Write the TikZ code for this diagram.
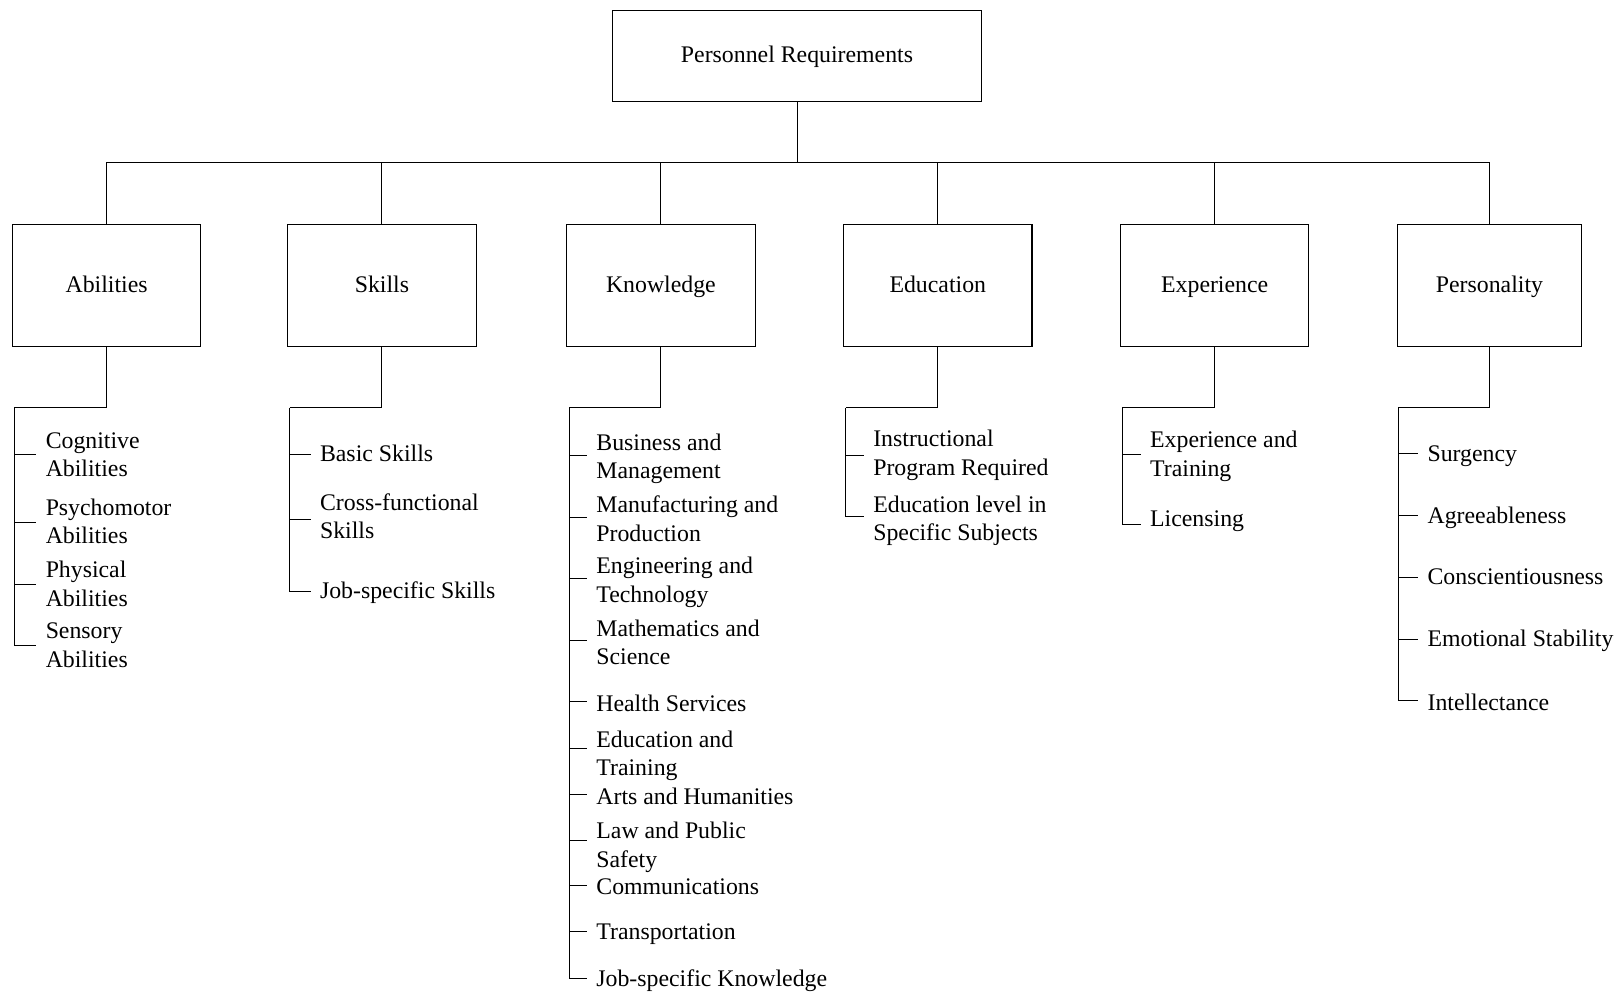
\documentclass[tikz,border=0pt]{standalone}
\usepackage{fontspec}
\setmainfont{Liberation Serif}
% balanced line strut so that every line has the same height and depth
\newcommand\ls{\rule[-7.25pt]{0pt}{27.5pt}}
\begin{document}
\begin{tikzpicture}[x=1pt,y=-1pt,
  every node/.style={font=\fontsize{23}{27.5}\selectfont},
  topbox/.style={draw, line width=1.1pt, minimum width=356pt, minimum height=88pt,
    inner sep=0pt, text height=20.25pt, text depth=7.25pt},
  catbox/.style={draw, line width=1.1pt, minimum width=182pt, minimum height=118.5pt,
    inner sep=0pt, text height=20.25pt, text depth=7.25pt},
  item/.style={anchor=west, inner xsep=9pt, inner ysep=0pt, align=left},
  link/.style={line width=0.9pt}]
\useasboundingbox (0,0) rectangle (1568,958);

% root and main categories
\node[topbox] (root) at (770,54) {Personnel Requirements};
\node[catbox] (abil) at (103,275.75) {Abilities};
\node[catbox] (skil) at (369,275.75) {Skills};
\node[catbox] (know) at (638.5,275.75) {Knowledge};
\node[catbox] (educ) at (906,275.75) {Education};
\node[catbox] (expe) at (1173.5,275.75) {Experience};
\node[catbox, minimum width=178pt] (pers) at (1439,275.75) {Personality};

\coordinate (bus) at (770,157);
\draw[link] (root.south) -- (bus);
\foreach \c in {abil,skil,know,educ,expe,pers}
  \draw[link] (bus) -| (\c.north);

% spine tops of the item lists
\coordinate (aJ) at (14,394);
\coordinate (sJ) at (280,394);
\coordinate (kJ) at (550,394);
\coordinate (eJ) at (817,394);
\coordinate (xJ) at (1084,394);
\coordinate (pJ) at (1351,394);

% Abilities
\node[item] (a1) at (35,440.5) {\ls Cognitive\\\ls Abilities};
\node[item] (a2) at (35,505) {\ls Psychomotor\\\ls Abilities};
\node[item] (a3) at (35,565.5) {\ls Physical\\\ls Abilities};
\node[item] (a4) at (35,624.5) {\ls Sensory\\\ls Abilities};

% Skills
\node[item] (s1) at (300,439.5) {\ls Basic Skills};
\node[item] (s2) at (300,500) {\ls Cross-functional\\\ls Skills};
\node[item] (s3) at (300,572) {\ls Job-specific Skills};

% Knowledge
\node[item] (k1) at (567,442) {\ls Business and\\\ls Management};
\node[item] (k2) at (567,502.5) {\ls Manufacturing and\\\ls Production};
\node[item] (k3) at (567,561.5) {\ls Engineering and\\\ls Technology};
\node[item] (k4) at (567,622) {\ls Mathematics and\\\ls Science};
\node[item] (k5) at (567,680.5) {\ls Health Services};
\node[item] (k6) at (567,729) {\ls Education and\\\ls Training};
\node[item] (k7) at (567,771) {\ls Arts and Humanities};
\node[item] (k8) at (567,817.5) {\ls Law and Public\\\ls Safety};
\node[item] (k9) at (567,857.5) {\ls Communications};
\node[item] (k10) at (567,901.5) {\ls Transportation};
\node[item] (k11) at (567,946.5) {\ls Job-specific Knowledge};

% Education
\node[item] (e1) at (834.5,439) {\ls Instructional\\\ls Program Required};
\node[item] (e2) at (834.5,502) {\ls Education level in\\\ls Specific Subjects};

% Experience
\node[item] (x1) at (1102,440) {\ls Experience and\\\ls Training};
\node[item] (x2) at (1102,502) {\ls Licensing};

% Personality
\node[item] (p1) at (1370,439) {\ls Surgency};
\node[item] (p2) at (1370,499.5) {\ls Agreeableness};
\node[item] (p3) at (1370,558.5) {\ls Conscientiousness};
\node[item] (p4) at (1370,618) {\ls Emotional Stability};
\node[item] (p5) at (1370,679.5) {\ls Intellectance};

% drops from the category boxes to the spines
\draw[link] (abil.south) |- (aJ);
\draw[link] (skil.south) |- (sJ);
\draw[link] (know.south) |- (kJ);
\draw[link] (educ.south) |- (eJ);
\draw[link] (expe.south) |- (xJ);
\draw[link] (pers.south) |- (pJ);

% spines and ticks (the shift is the tick's offset from the label's middle)
\foreach \i/\o in {a1/1,a2/0.5,a3/0.5,a4/0.5} \draw[link] (aJ) |- ([yshift=\o pt]\i.west);
\foreach \i/\o in {s1/0.5,s2/-2,s3/0.5} \draw[link] (sJ) |- ([yshift=\o pt]\i.west);
\foreach \i/\o in {k1/2,k2/2.5,k3/2.5,k4/3,k5/2.5,k6/6,k7/3,k8/6,k9/2.5,k10/1.5,k11/1.5}
  \draw[link] (kJ) |- ([yshift=\o pt]\i.west);
\foreach \i/\o in {e1/-1,e2/3} \draw[link] (eJ) |- ([yshift=\o pt]\i.west);
\foreach \i/\o in {x1/0.5,x2/-5} \draw[link] (xJ) |- ([yshift=\o pt]\i.west);
\foreach \i/\o in {p1/0.5,p2/1.5,p3/0.5,p4/0.5,p5/3} \draw[link] (pJ) |- ([yshift=\o pt]\i.west);
\end{tikzpicture}
\end{document}
